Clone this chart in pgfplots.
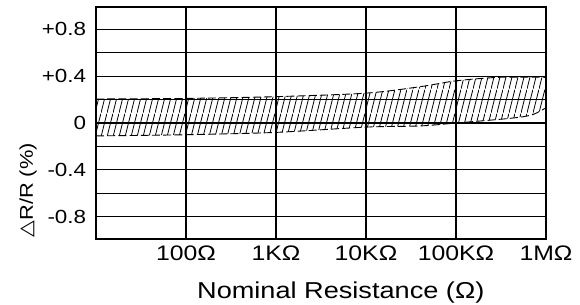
\documentclass[border=0pt]{standalone}
\usepackage{fontspec}
\setmainfont{Liberation Sans}[FakeStretch=1.18]
\newfontfamily\dejavu{DejaVu Sans}[FakeStretch=1.18]
\usepackage{pgfplots}
\pgfplotsset{compat=1.18}
\usepgfplotslibrary{fillbetween}
\usetikzlibrary{patterns.meta}

\tikzdeclarepattern{
  name=strokes,
  type=uncolored,
  bottom left={(0pt,0pt)},
  top right={(3.2pt,12pt)},
  tile size={(3.2pt,12pt)},
  code={\draw[line width=0.45pt] (0pt,0pt) -- (3.2pt,12pt);}
}

\begin{document}
\begin{tikzpicture}
\begin{axis}[
  at={(0,0)}, anchor=south west,
  scale only axis, width=225pt, height=116pt,
  xmode=log, xmin=10, xmax=1e6, ymin=-0.99, ymax=0.99,
  xtick={100,1000,10000,100000,1000000},
  xticklabels={100Ω,1KΩ,10KΩ,100KΩ,1MΩ},
  ytick={-0.8,-0.6,-0.4,-0.2,0,0.2,0.4,0.6,0.8},
  yticklabels={-0.8,,-0.4,,0,,+0.4,,+0.8},
  grid=major,
  major grid style={black, line width=0.6pt},
  axis line style={black, line width=0.6pt},
  major tick length=0pt, minor tick length=0pt,
  /pgf/number format/assume math mode=true,
  xticklabel style={font=\fontsize{10.5}{12}\selectfont, anchor=base, yshift=-11pt},
  yticklabel style={font=\fontsize{9.5}{11}\selectfont, anchor=east, xshift=-1.4pt},
  xlabel={Nominal Resistance (Ω)},
  xlabel style={at={(axis description cs:0.544,0)}, anchor=center, yshift=-27pt, font=\fontsize{11.5}{13}\selectfont},
  ylabel={{\dejavu △}R/R (\%)},
  ylabel style={at={(axis description cs:-0.151,0.21)}, anchor=center, font=\fontsize{9.25}{11}\selectfont},
]
\addplot[name path=upper, black, line width=0.45pt, dash pattern=on 4pt off 1.6pt, smooth] coordinates {
  (10,0.205) (100,0.21) (1000,0.225) (10000,0.255) (40000,0.31) (100000,0.36) (300000,0.39) (1000000,0.39)
};
\addplot[name path=lower, black, line width=0.45pt, dash pattern=on 4pt off 1.6pt, smooth] coordinates {
  (10,-0.11) (100,-0.10) (1000,-0.08) (10000,-0.035) (40000,-0.025) (100000,0.0) (400000,0.04) (700000,0.07) (1000000,0.13)
};
\addplot[pattern=strokes, pattern color=black, draw=none] fill between[of=upper and lower];
\end{axis}
\pgfresetboundingbox
\path[use as bounding box] (-48pt,-33pt) rectangle (242pt,119.5pt);
\end{tikzpicture}
\end{document}
